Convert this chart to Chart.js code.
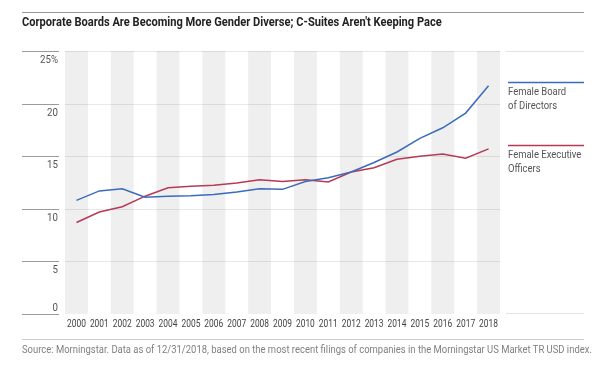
<!DOCTYPE html>
<html>
<head>
<meta charset="utf-8">
<script src="https://cdn.jsdelivr.net/npm/chart.js@4.4.1/dist/chart.umd.min.js"></script>
<style>
  html, body { margin: 0; padding: 0; background: #fff; }
  #wrap { position: relative; width: 603px; height: 378px; overflow: hidden; font-family: Roboto, sans-serif; }
  #rule-top { position: absolute; left: 22px; top: 12px; width: 562px; border-top: 1px solid #999; }
  #title { position: absolute; left: 22px; top: 14px; font-size: 12.5px; font-weight: bold; color: #222;
           white-space: nowrap; transform-origin: 0 0; }
  #rule-bot { position: absolute; left: 22px; top: 339px; width: 562px; border-top: 1px solid #ccc; }
  #source { position: absolute; left: 22px; top: 344px; font-size: 10px; color: #808080;
            white-space: nowrap; transform-origin: 0 0; }
  #chart-box { position: absolute; left: 0; top: 0; width: 603px; height: 378px; }
</style>
</head>
<body>
<div id="wrap">
  <div id="chart-box"><canvas id="chart"></canvas></div>
  <div id="rule-top"></div>
  <div id="title">Corporate Boards Are Becoming More Gender Diverse; C-Suites Aren't Keeping Pace</div>
  <div id="rule-bot"></div>
  <div id="source">Source: Morningstar. Data as of 12/31/2018, based on the most recent filings of companies in the Morningstar US Market TR USD index.</div>
</div>
<script>
const FONT = "Roboto, sans-serif";
const BLUE = "#3a6bbd";
const RED = "#b63a55";

const years = ["2000","2001","2002","2003","2004","2005","2006","2007","2008","2009",
               "2010","2011","2012","2013","2014","2015","2016","2017","2018"];
const boardPct = [10.8, 11.7, 11.9, 11.1, 11.2, 11.25, 11.35, 11.6, 11.9, 11.85,
                  12.6, 12.95, 13.5, 14.4, 15.4, 16.7, 17.7, 19.1, 21.7];
const execPct  = [8.7, 9.7, 10.2, 11.2, 12.0, 12.15, 12.25, 12.45, 12.75, 12.6,
                  12.75, 12.55, 13.5, 13.9, 14.7, 15.0, 15.2, 14.8, 15.7];
const yTicks = [0, 5, 10, 15, 20, 25];
const legendLines = [["Female Board", "of Directors"], ["Female Executive", "Officers"]];

// no condensed face is installed, so squeeze the regular one horizontally
function squeeze(id, targetWidth) {
  const el = document.getElementById(id);
  el.style.transform = `scaleX(${targetWidth / el.scrollWidth})`;
}
squeeze("title", 420);
squeeze("source", 570);

function narrowText(ctx, text, x, y, sx) {
  ctx.save();
  ctx.translate(x, y);
  ctx.scale(sx, 1);
  ctx.fillText(text, 0, 0);
  ctx.restore();
}

const backdrop = {
  id: "backdrop",
  beforeDatasetsDraw(chart) {
    const { ctx, chartArea: a, scales: { x, y } } = chart;
    const w = x.getPixelForValue(1) - x.getPixelForValue(0);
    ctx.save();
    ctx.fillStyle = "#efefef";
    years.forEach((yr, i) => {
      if (i % 2 === 0) {
        const cx = x.getPixelForValue(i);
        ctx.fillRect(cx - w / 2, a.top, w, a.bottom - a.top);
      }
    });
    ctx.lineWidth = 1;
    ctx.font = "11px " + FONT;
    yTicks.forEach(v => {
      const py = Math.round(y.getPixelForValue(v)) + 0.5;
      if (v > 0) {
        ctx.strokeStyle = "rgba(0,0,0,0.09)";
        ctx.beginPath(); ctx.moveTo(a.left, py); ctx.lineTo(a.right, py); ctx.stroke();
      }
      ctx.strokeStyle = "#9a9a9a";
      ctx.beginPath(); ctx.moveTo(22, py); ctx.lineTo(59, py); ctx.stroke();
      ctx.fillStyle = "#555";
      ctx.textAlign = "right";
      if (v === 0) { ctx.textBaseline = "bottom"; narrowText(ctx, "0", 58, py - 1, 0.88); }
      else { ctx.textBaseline = "top"; narrowText(ctx, v === 25 ? "25%" : String(v), 58, py + 3, 0.88); }
    });
    // x labels
    ctx.font = "10px " + FONT;
    ctx.fillStyle = "#444";
    ctx.textAlign = "center";
    ctx.textBaseline = "top";
    years.forEach((yr, i) => narrowText(ctx, yr, x.getPixelForValue(i), a.bottom + 5, 0.84));
    // right legend area lines
    ctx.strokeStyle = "#e2e2e2";
    const top = Math.round(a.top) + 0.5, bot = Math.round(a.bottom) - 0.5;
    ctx.beginPath(); ctx.moveTo(506, top); ctx.lineTo(584, top); ctx.stroke();
    ctx.beginPath(); ctx.moveTo(506, bot); ctx.lineTo(584, bot); ctx.stroke();
    ctx.restore();
  },
  afterDraw(chart) {
    const { ctx, scales: { y } } = chart;
    ctx.save();
    chart.data.datasets.forEach((ds, i) => {
      const last = ds.data[ds.data.length - 1];
      const py = Math.round(y.getPixelForValue(last)) - 3.5;
      ctx.strokeStyle = ds.borderColor;
      ctx.lineWidth = 1.5;
      ctx.beginPath(); ctx.moveTo(508, py); ctx.lineTo(584, py); ctx.stroke();
      ctx.fillStyle = "#555";
      ctx.font = "11px " + FONT;
      ctx.textAlign = "left";
      ctx.textBaseline = "top";
      legendLines[i].forEach((t, k) => narrowText(ctx, t, 508, py + 4 + k * 14, 0.86));
    });
    ctx.restore();
  }
};

new Chart(document.getElementById("chart").getContext("2d"), {
  type: "line",
  data: {
    labels: years,
    datasets: [
      { label: "Female Board of Directors", data: boardPct, borderColor: BLUE, backgroundColor: BLUE,
        borderWidth: 1.5, pointRadius: 0, tension: 0 },
      { label: "Female Executive Officers", data: execPct, borderColor: RED, backgroundColor: RED,
        borderWidth: 1.5, pointRadius: 0, tension: 0 }
    ]
  },
  options: {
    responsive: true,
    maintainAspectRatio: false,
    animation: false,
    layout: { padding: { left: 65, right: 103, top: 51, bottom: 64 } },
    plugins: { legend: { display: false }, title: { display: false }, tooltip: { enabled: false } },
    scales: {
      x: { offset: true, display: false },
      y: { display: false, min: 0, max: 25 }
    }
  },
  plugins: [backdrop]
});
</script>
</body>
</html>
